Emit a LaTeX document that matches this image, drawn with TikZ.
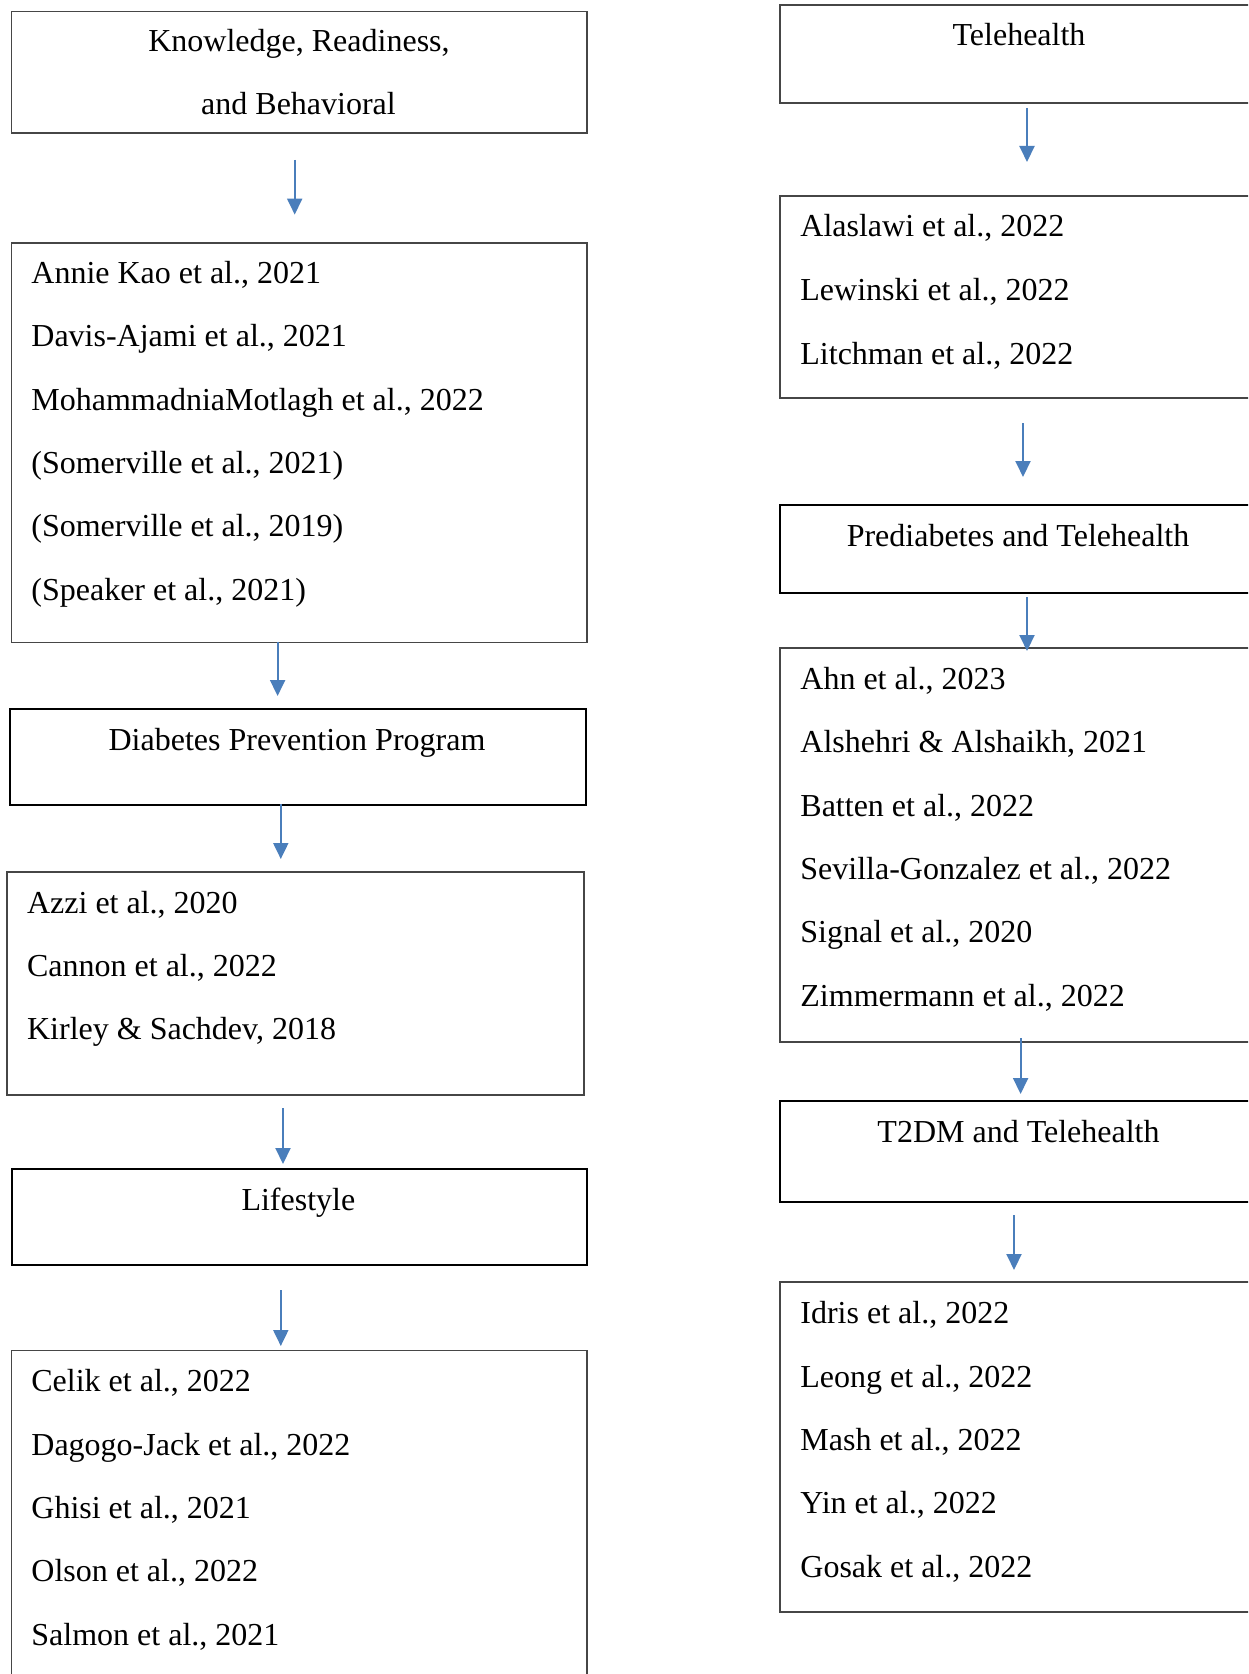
\documentclass[tikz,border=0pt]{standalone}
\usepackage{fontspec}
\setmainfont{Liberation Serif}
\usetikzlibrary{arrows.meta}
\definecolor{arrblue}{RGB}{74,126,187}
\definecolor{boxgray}{RGB}{70,70,70}
\begin{document}
\begin{tikzpicture}[x=0.5pt,y=-0.5pt,
  listbox/.style={draw=boxgray,line width=0.8pt,rectangle,inner sep=0pt,anchor=north west},
  headbox/.style={draw=black,line width=1.2pt,rectangle,inner sep=0pt,anchor=north west},
  headtext/.style={anchor=base,inner sep=0pt,font=\fontsize{16pt}{20pt}\selectfont},
  itemtext/.style={anchor=base west,inner sep=0pt,font=\fontsize{16pt}{20pt}\selectfont},
  arr/.style={draw=arrblue,line width=1pt,-{Triangle[length=8pt,width=7.5pt]},arrblue}]
\useasboundingbox (0,0) rectangle (1248,1674);
\clip (0,0) rectangle (1248,1674);
\fill[white] (0,0) rectangle (1248,1674);

% left column boxes
\node[listbox,minimum width=287.65pt,minimum height=60.85pt] (b1) at (10.7,10.7) {};
\node[listbox,minimum width=287.65pt,minimum height=199.8pt] (b2) at (10.7,242) {};
\node[headbox,minimum width=288.25pt,minimum height=48pt] (b3) at (8.5,708) {};
\node[listbox,minimum width=288.3pt,minimum height=111.5pt] (b4) at (6.4,871) {};
\node[headbox,minimum width=287.65pt,minimum height=48pt] (b5) at (10.7,1168) {};
\node[listbox,minimum width=287.65pt,minimum height=175.25pt] (b6) at (10.7,1349.5) {};

% right column boxes
\node[listbox,minimum width=260.5pt,minimum height=49.1pt] (r1) at (779,4.3) {};
\node[listbox,minimum width=260.5pt,minimum height=101pt] (r2) at (779,195) {};
\node[headbox,minimum width=260.5pt,minimum height=43.75pt] (r3) at (779,504) {};
\node[listbox,minimum width=260.5pt,minimum height=197pt] (r4) at (779,647) {};
\node[headbox,minimum width=260.5pt,minimum height=50.5pt] (r5) at (779,1100) {};
\node[listbox,minimum width=260.5pt,minimum height=165pt] (r6) at (779,1281) {};

% headings
\node[headtext] (t1a) at (299,52) {Knowledge, Readiness,};
\node[headtext] (t1b) at (298.5,115) {and Behavioral};
\node[headtext] (t3) at (297,750) {Diabetes Prevention Program};
\node[headtext] (t5) at (298.4,1210) {Lifestyle};
\node[headtext] (tr1) at (1019,46) {Telehealth};
\node[headtext] (tr3) at (1018,546) {Prediabetes and Telehealth};
\node[headtext] (tr5) at (1018.5,1142) {T2DM and Telehealth};

% box 2 items
\node[itemtext] (i21) at (31,283.2) {Annie Kao et al., 2021};
\node[itemtext] (i22) at (31,346.2) {Davis-Ajami et al., 2021};
\node[itemtext] (i23) at (31,410.3) {MohammadniaMotlagh et al., 2022};
\node[itemtext] (i24) at (31,473.3) {(Somerville et al., 2021)};
\node[itemtext] (i25) at (31,536.3) {(Somerville et al., 2019)};
\node[itemtext] (i26) at (31,600.3) {(Speaker et al., 2021)};

% box 4 items
\node[itemtext] (i41) at (26.7,913.1) {Azzi et al., 2020};
\node[itemtext] (i42) at (26.7,976.1) {Cannon et al., 2022};
\node[itemtext] (i43) at (26.7,1039.1) {Kirley \& Sachdev, 2018};

% box 6 items
\node[itemtext] (i61) at (31,1391.4) {Celik et al., 2022};
\node[itemtext] (i62) at (31,1455.5) {Dagogo-Jack et al., 2022};
\node[itemtext] (i63) at (31,1518.5) {Ghisi et al., 2021};
\node[itemtext] (i64) at (31,1581.4) {Olson et al., 2022};
\node[itemtext] (i65) at (31,1645.5) {Salmon et al., 2021};

% right box 2 items
\node[itemtext] (j21) at (800,236.3) {Alaslawi et al., 2022};
\node[itemtext] (j22) at (800,300.3) {Lewinski et al., 2022};
\node[itemtext] (j23) at (800,364.4) {Litchman et al., 2022};

% right box 4 items
\node[itemtext] (j41) at (800,689) {Ahn et al., 2023};
\node[itemtext] (j42) at (800,752) {Alshehri \& Alshaikh, 2021};
\node[itemtext] (j43) at (800,816) {Batten et al., 2022};
\node[itemtext] (j44) at (800,879) {Sevilla-Gonzalez et al., 2022};
\node[itemtext] (j45) at (800,942) {Signal et al., 2020};
\node[itemtext] (j46) at (800,1006) {Zimmermann et al., 2022};

% right box 6 items
\node[itemtext] (j61) at (800,1323) {Idris et al., 2022};
\node[itemtext] (j62) at (800,1387) {Leong et al., 2022};
\node[itemtext] (j63) at (800,1450) {Mash et al., 2022};
\node[itemtext] (j64) at (800,1513) {Yin et al., 2022};
\node[itemtext] (j65) at (800,1577) {Gosak et al., 2022};

% arrow coordinates
\coordinate (a1s) at (294.7,160);  \coordinate (a1e) at (294.7,214.6);
\coordinate (a2s) at (277.6,641.6); \coordinate (a2e) at (277.6,696);
\coordinate (a3s) at (280.8,804);  \coordinate (a3e) at (280.8,859);
\coordinate (a4s) at (283,1108);   \coordinate (a4e) at (283,1164);
\coordinate (a5s) at (280.8,1290); \coordinate (a5e) at (280.8,1346);
\coordinate (c1s) at (1027,108);   \coordinate (c1e) at (1027,162);
\coordinate (c2s) at (1023,423);   \coordinate (c2e) at (1023,477);
\coordinate (c3s) at (1027,597);   \coordinate (c3e) at (1027,651);
\coordinate (c4s) at (1020.6,1038); \coordinate (c4e) at (1020.6,1094);
\coordinate (c5s) at (1014,1215);  \coordinate (c5e) at (1014,1270);

\draw[arr] (a1s) -- (a1e);
\draw[arr] (a2s) -- (a2e);
\draw[arr] (a3s) -- (a3e);
\draw[arr] (a4s) -- (a4e);
\draw[arr] (a5s) -- (a5e);
\draw[arr] (c1s) -- (c1e);
\draw[arr] (c2s) -- (c2e);
\draw[arr] (c3s) -- (c3e);
\draw[arr] (c4s) -- (c4e);
\draw[arr] (c5s) -- (c5e);
\end{tikzpicture}
\end{document}
